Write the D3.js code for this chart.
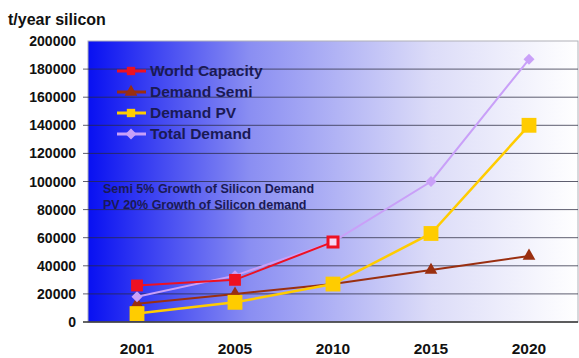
<html>
<head>
  <script src="https://d3js.org/d3.v7.min.js"></script>
  <style>
    body { margin: 0; background: white; }
    text { font-family: "Liberation Sans", Arial, sans-serif; font-weight: bold; }
  </style>
</head>
<body>
  <svg id="chart" width="579" height="358"></svg>
  <script>
    // data
    const years = ["2001", "2005", "2010", "2015", "2020"];
    const worldCapacity = [26000, 30000, 57000];
    const demandSemi = [13000, 20000, 27000, 37000, 47000];
    const demandPV = [6000, 14000, 27000, 63000, 140000];
    const totalDemand = [18000, 33000, 57000, 100000, 187000];
    const yTicks = [0, 20000, 40000, 60000, 80000, 100000, 120000, 140000, 160000, 180000, 200000];
    const seriesNames = ["World Capacity", "Demand Semi", "Demand PV", "Total Demand"];
    const notes = ["Semi 5% Growth of Silicon Demand", "PV 20% Growth of Silicon demand"];

    const svg = d3.select("svg#chart");
    const margin = { top: 41, right: 1, bottom: 36, left: 88 };
    const width = +svg.attr("width");
    const height = +svg.attr("height");

    const x = d3.scaleBand().domain(years).range([margin.left, width - margin.right]);
    const y = d3.scaleLinear().domain([0, 200000]).range([height - margin.bottom, margin.top]);

    // gradient background blue -> white
    const grad = svg.append("defs").append("linearGradient")
      .attr("id", "bg").attr("x1", "0%").attr("x2", "100%").attr("y1", "0%").attr("y2", "0%");
    grad.append("stop").attr("offset", "0%").attr("stop-color", "#0810f2");
    grad.append("stop").attr("offset", "33%").attr("stop-color", "#8a8ef2");
    grad.append("stop").attr("offset", "70%").attr("stop-color", "#dcdcf8");
    grad.append("stop").attr("offset", "100%").attr("stop-color", "#ffffff");

    svg.append("rect")
      .attr("x", margin.left)
      .attr("y", y(200000))
      .attr("width", width - margin.left - margin.right)
      .attr("height", y(0) - y(200000))
      .attr("fill", "url(#bg)")
      .attr("stroke", "#b0b0b8")
      .attr("stroke-width", 1);

    // gridlines + tick marks
    yTicks.forEach(t => {
      if (t > 0 && t < 200000) {
        svg.append("line")
          .attr("x1", margin.left - 5).attr("x2", width - margin.right)
          .attr("y1", y(t)).attr("y2", y(t))
          .style("stroke", "#2a2a40").style("stroke-width", 1).style("opacity", 0.75);
      }
      svg.append("text")
        .attr("x", 76).attr("y", y(t) + 5)
        .attr("text-anchor", "end")
        .style("font-size", "14px")
        .style("fill", "#111")
        .text(t);
    });

    // x axis line
    svg.append("line")
      .attr("x1", margin.left - 5).attr("x2", width - margin.right)
      .attr("y1", y(0)).attr("y2", y(0))
      .style("stroke", "#333").style("stroke-width", 1.5);

    years.forEach(yr => {
      svg.append("text")
        .attr("x", x(yr) + x.bandwidth() / 2).attr("y", 354)
        .attr("text-anchor", "middle")
        .style("font-size", "15.5px")
        .style("fill", "#111")
        .text(yr);
    });

    svg.append("text")
      .attr("x", 8).attr("y", 25)
      .style("font-size", "16px")
      .style("fill", "#111")
      .text("t/year silicon");

    const cx = i => x(years[i]) + x.bandwidth() / 2;
    const line = d3.line().x((d, i) => cx(i)).y(d => y(d));

    const series = [
      { name: seriesNames[1], values: demandSemi, color: "#9a2f10", width: 2, shape: d3.symbolTriangle, size: 70, rot: 0 },
      { name: seriesNames[2], values: demandPV, color: "#ffcc00", width: 2.5, shape: d3.symbolSquare, size: 220, rot: 0 },
      { name: seriesNames[3], values: totalDemand, color: "#c9a0f8", width: 2, shape: d3.symbolSquare, size: 60, rot: 45 },
      { name: seriesNames[0], values: worldCapacity, color: "#ee1122", width: 2, shape: d3.symbolSquare, size: 140, rot: 0 }
    ];

    series.forEach(s => {
      svg.append("path")
        .datum(s.values)
        .attr("d", line)
        .attr("fill", "none")
        .attr("stroke", s.color)
        .attr("stroke-width", s.width);
      s.values.forEach((v, i) => {
        const open = s.name === "World Capacity" && i === s.values.length - 1;
        svg.append("path")
          .attr("d", d3.symbol().type(s.shape).size(open ? 100 : s.size)())
          .attr("transform", `translate(${cx(i)},${y(v)}) rotate(${s.rot})`)
          .attr("fill", open ? "#f4d8f4" : s.color)
          .attr("stroke", open ? s.color : "none")
          .attr("stroke-width", 3);
      });
    });

    // legend
    const legendOrder = [series[3], series[0], series[1], series[2]];
    legendOrder.forEach((s, i) => {
      const ly = 71 + i * 21;
      svg.append("line")
        .attr("x1", 117).attr("x2", 146)
        .attr("y1", ly).attr("y2", ly)
        .attr("stroke", s.color).attr("stroke-width", 3);
      svg.append("path")
        .attr("d", d3.symbol().type(s.shape).size(Math.min(s.size, 70))())
        .attr("transform", `translate(131,${ly}) rotate(${s.rot})`)
        .attr("fill", s.color);
      svg.append("text")
        .attr("x", 150).attr("y", ly + 5)
        .style("font-size", "15.5px")
        .style("fill", "#1a1a55")
        .text(s.name);
    });

    notes.forEach((n, i) => {
      svg.append("text")
        .attr("x", 103).attr("y", 193 + i * 16)
        .style("font-size", "12.5px")
        .style("fill", "#1a1a55")
        .text(n);
    });
  </script>
</body>
</html>
